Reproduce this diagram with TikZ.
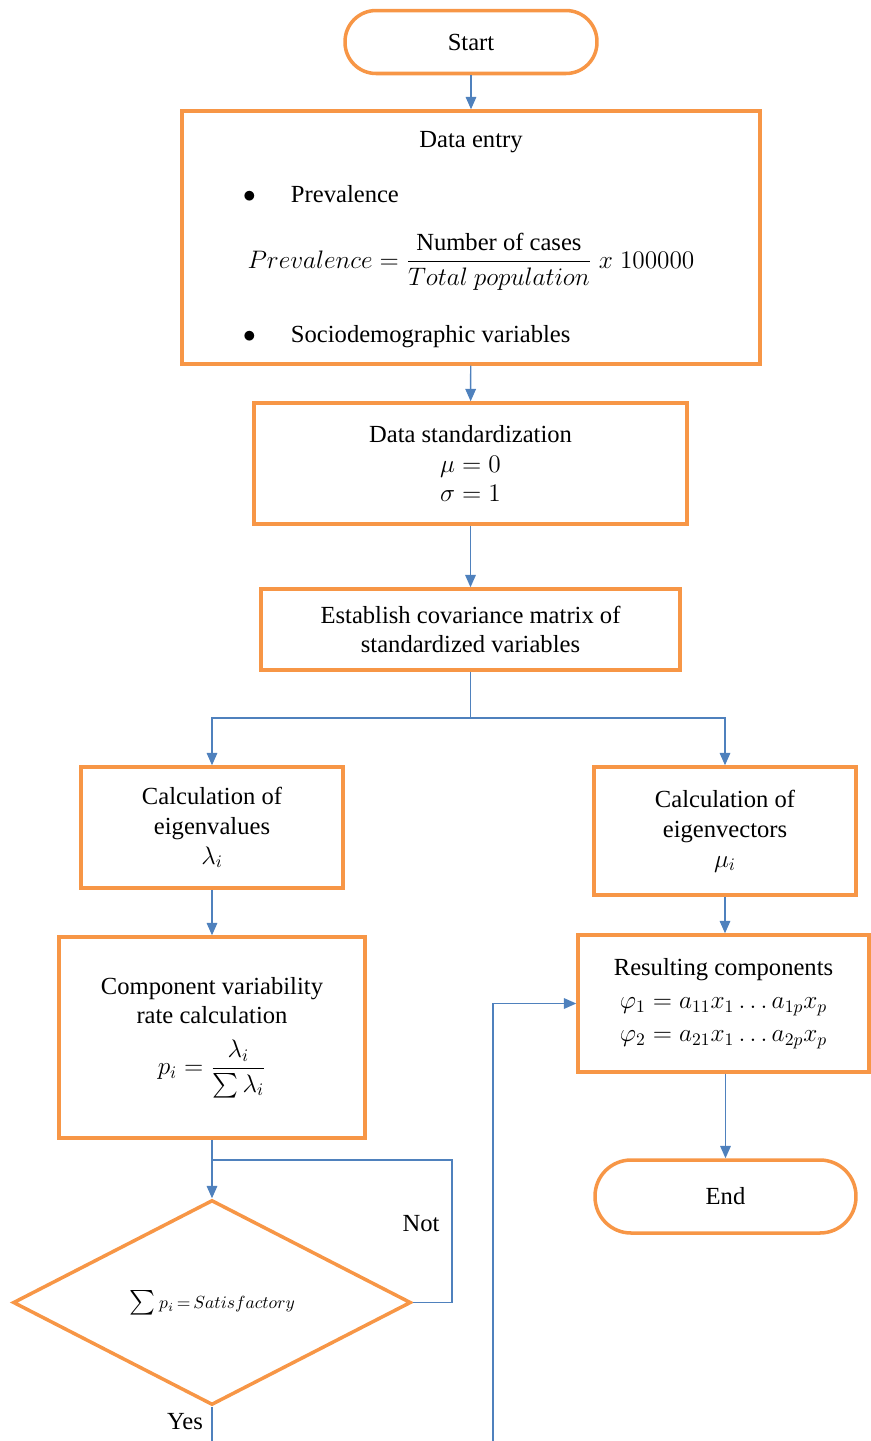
\documentclass[tikz,border=0pt]{standalone}
\usepackage{amsmath,amssymb}
\usepackage{fontspec}
\setmainfont{Liberation Serif}
\usepackage{tikz}
\usetikzlibrary{arrows.meta,positioning,shapes.geometric}
\usepackage{xcolor}
\definecolor{boxorange}{HTML}{F79646}
\definecolor{linkblue}{HTML}{4F81BD}

\begin{document}
\begin{tikzpicture}[
  x=0.02cm, y=-0.02cm,
  every node/.style={font=\fontsize{14}{17}\selectfont},
  procbox/.style={draw=boxorange, line width=2pt, align=center, inner sep=2pt},
  termnode/.style={procbox, rounded corners=0.62cm},
  decnode/.style={diamond, draw=boxorange, line width=2pt, inner sep=0pt},
  link/.style={draw=linkblue, line width=0.8pt},
  arrowlink/.style={link, -{Triangle[length=7pt,width=6pt]}},
]
\useasboundingbox (0,0) rectangle (870,1441);

% ---- Start / data entry ----
\node[termnode, minimum width=5.04cm, minimum height=1.26cm] (start) at (471,42) {Start};
\node[procbox, minimum width=11.56cm, minimum height=5.06cm] (entry) at (471,237.5) {};
\node (entrytitle) at (471,142) {Data entry};
\node[anchor=west] (bullet1) at (237,194) {$\bullet$\hspace{20pt}Prevalence};
\node (prevformula) at (471,262)
  {$Prevalence = \dfrac{\text{Number of cases}}{Total\ population}\;x\;100000$};
\node[anchor=west] (bullet2) at (237,337) {$\bullet$\hspace{20pt}Sociodemographic variables};

% ---- Standardization and covariance ----
\node[procbox, minimum width=8.66cm, minimum height=2.42cm] (stdz) at (470.5,463.5)
  {Data standardization\\$\mu = 0$\\$\sigma = 1$};
\node[procbox, minimum width=8.38cm, minimum height=1.62cm] (covar) at (470.5,629.5)
  {Establish covariance matrix of\\standardized variables};

% ---- Left branch: eigenvalues ----
\node[procbox, minimum width=5.24cm, minimum height=2.42cm] (evals) at (212,827.5)
  {Calculation of\\eigenvalues\\$\lambda_i$};
\node[procbox, minimum width=6.12cm, minimum height=4.02cm] (rate) at (212,1037.5)
  {Component variability\\rate calculation\\[8pt]$p_i = \dfrac{\lambda_i}{\sum\lambda_i}$};
\node[decnode, minimum width=7.96cm, minimum height=4.1cm] (check) at (212,1302.5)
  {$\sum {\scriptstyle p_i\, =\, Satisfactory}$};

% ---- Right branch: eigenvectors ----
\node[procbox, minimum width=5.24cm, minimum height=2.56cm] (evecs) at (725,831)
  {Calculation of\\eigenvectors\\$\mu_i$};
\node[procbox, minimum width=5.82cm, minimum height=2.74cm] (result) at (723.5,1003.5)
  {Resulting components\\[2pt]$\varphi_1 = a_{11}x_1 \ldots a_{1p}x_p$\\[2pt]$\varphi_2 = a_{21}x_1 \ldots a_{2p}x_p$};
\node[termnode, minimum width=5.22cm, minimum height=1.46cm, rounded corners=0.72cm] (finish) at (725.5,1196.5) {End};

% ---- Connectors ----
\coordinate (split) at (470.5,718);
\coordinate (loopjoin) at (212,1160);
\coordinate (loopcorner) at (452,1160);
\coordinate (yesend) at (212,1441);
\coordinate (backstart) at (493,1441);

\draw[arrowlink] (start) -- (entry);
\draw[arrowlink] (entry) -- (stdz);
\draw[arrowlink] (stdz) -- (covar);
\draw[link] (covar) -- (split);
\draw[arrowlink] (split) -| (evals.north);
\draw[arrowlink] (split) -| (evecs.north);
\draw[arrowlink] (evals) -- (rate);
\draw[arrowlink] (rate) -- (check);
\draw[link] (check.east) -| (loopcorner) -- (loopjoin);
\draw[link] (check.south) -- (yesend);
\draw[arrowlink] (backstart) |- (result.west);
\draw[arrowlink] (evecs.south) -- (evecs.south |- result.north);
\draw[arrowlink] (result.south -| finish.north) -- (finish.north);

% ---- Decision labels ----
\node (notlabel) at (421,1224) {Not};
\node (yeslabel) at (185,1422) {Yes};

\end{tikzpicture}
\end{document}
